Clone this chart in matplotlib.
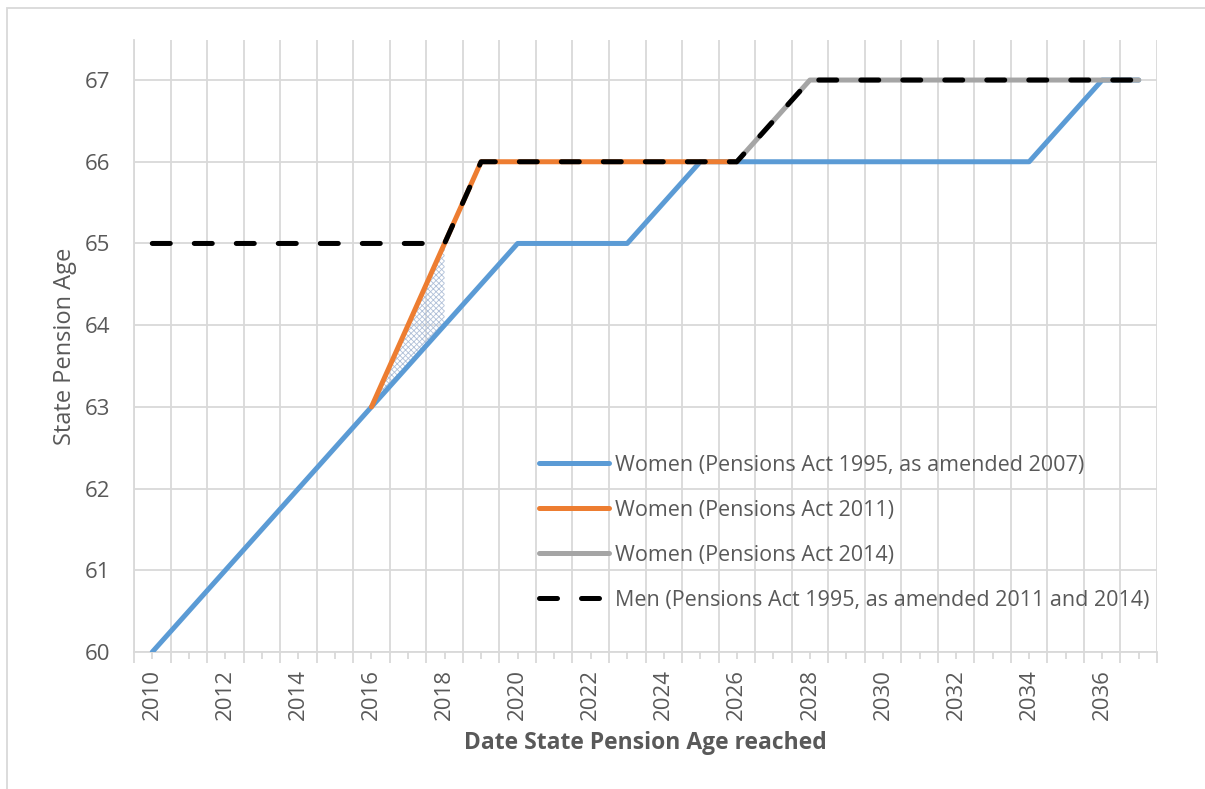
import numpy as np
import matplotlib
matplotlib.use("Agg")
import matplotlib.pyplot as plt
from matplotlib.patches import Rectangle

plt.rcParams['font.family'] = ['Open Sans', 'DejaVu Sans']
plt.rcParams['hatch.linewidth'] = 0.6

years = list(range(2010, 2038))
nan = np.nan
women_1995 = [60, 60.5, 61, 61.5, 62, 62.5, 63, 63.5, 64, 64.5, 65, 65, 65, 65,
              65.5, 66, 66, 66, 66, 66, 66, 66, 66, 66, 66, 66.5, 67, 67]
women_2011 = [nan, nan, nan, nan, nan, nan, 63, 64, 65, 66, 66, 66, 66, 66,
              66, 66, 66, nan, nan, nan, nan, nan, nan, nan, nan, nan, nan, nan]
women_2014 = [nan] * 16 + [66, 66.5, 67, 67, 67, 67, 67, 67, 67, 67, 67, 67]
men = [65, 65, 65, 65, 65, 65, 65, 65, 65, 66, 66, 66, 66, 66, 66, 66, 66,
       66.5, 67, 67, 67, 67, 67, 67, 67, 67, 67, 67]
labels = ["Women (Pensions Act 1995, as amended 2007)",
          "Women (Pensions Act 2011)",
          "Women (Pensions Act 2014)",
          "Men (Pensions Act 1995, as amended 2011 and 2014)"]
# shaded gap between 2011 and 1995 timetables
gap_years = [2016, 2017, 2018]

W, H = 1205, 789
fig = plt.figure(figsize=(W / 100, H / 100), dpi=100)
ax = fig.add_axes([134 / W, 137 / H, (1157 - 134) / W, (652 - 40) / H])

txt = '#595959'
grid = '#d9d9d9'
lw = 3.6

x = np.array(years, dtype=float)
ax.plot(x, women_1995, color='#5B9BD5', lw=lw, solid_capstyle='round', label=labels[0], zorder=3)
ax.plot(x, women_2011, color='#ED7D31', lw=lw, solid_capstyle='round', label=labels[1], zorder=4)
ax.plot(x, women_2014, color='#A5A5A5', lw=lw, solid_capstyle='round', label=labels[2], zorder=5)
ax.plot(x, men, color='black', lw=lw, dashes=(3.6, 4.8), dash_capstyle='round',
        label=labels[3], zorder=6)

idx = [years.index(y) for y in gap_years]
ax.fill_between(gap_years, [women_1995[i] for i in idx], [women_2011[i] for i in idx],
                facecolor='none', edgecolor='#b0c0d8', hatch='xxxxxx', linewidth=0, zorder=2)

ax.set_xlim(2009.5, 2037.5)
ax.set_ylim(60, 67.49)

ax.set_yticks(range(60, 68))
ax.tick_params(axis='y', length=0, labelsize=16, labelcolor=txt, pad=17)
ax.grid(axis='y', color=grid, lw=1.3, zorder=0)

# category boundaries: gridlines and long ticks
bounds = np.arange(2009.5, 2038.0, 1.0)
ax.set_xticks(bounds)
ax.set_xticklabels([''] * len(bounds))
ax.tick_params(axis='x', which='major', length=8, width=1.3, color=grid)
ax.set_xticks(years, minor=True)
ax.set_xticklabels([str(y) if y % 2 == 0 else '' for y in years], minor=True, rotation=90)
ax.tick_params(axis='x', which='minor', length=5, width=1.3, color=grid,
               labelsize=16, labelcolor=txt, pad=7)
ax.grid(axis='x', which='major', color=grid, lw=1.3, zorder=0)

for s in ['top', 'right']:
    ax.spines[s].set_visible(False)
for s in ['left', 'bottom']:
    ax.spines[s].set_color(grid)
    ax.spines[s].set_linewidth(1.3)

ax.set_xlabel('Date State Pension Age reached', fontsize=16.5, fontweight='bold', color=txt, labelpad=8)
ax.set_ylabel('State Pension Age', fontsize=17, color=txt, labelpad=6)

leg = ax.legend(loc='upper left', bbox_to_anchor=(530 / W, (789 - 446) / H),
                bbox_transform=fig.transFigure, frameon=False, fontsize=15.5,
                handlelength=3.25, handletextpad=0.3, labelspacing=1.12,
                labelcolor=txt, borderaxespad=0)

fig.patches.append(Rectangle((7 / W, -0.01), 1.0, (789 - 8) / H + 0.01,
                             transform=fig.transFigure, fill=False,
                             edgecolor='#d9d9d9', lw=1.3))

fig.savefig('out.png', dpi=100, facecolor='white')
